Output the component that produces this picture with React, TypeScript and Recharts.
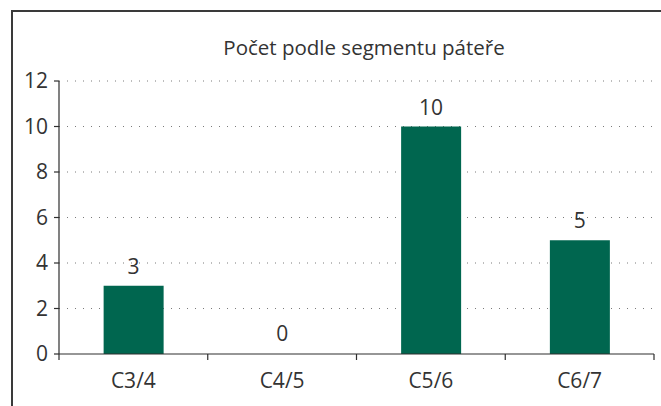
import React from "react"
import { BarChart, Bar, XAxis, YAxis, CartesianGrid, LabelList, Cell } from "recharts"

const segments = ["C3/4", "C4/5", "C5/6", "C6/7"]
const counts = [3, 0, 10, 5]
const yTicks = [0, 2, 4, 6, 8, 10, 12]

const chartTitle = "Počet podle segmentu páteře"

const textColor = "#333333"
const axisColor = "#2e2e2e"
const barColor = "#00664f"
const fontFamily = "'Open Sans', 'Noto Sans', sans-serif"
const fontSize = 21

const data = segments.map((name, i) => ({ name, count: counts[i] }))

type TickProps = {
  x?: number
  y?: number
  width?: number
  index?: number
  visibleTicksCount?: number
  payload?: { value: string }
}

// category label in the middle, tick marks at the band edges
function SegmentTick(props: TickProps) {
  const { x = 0, y = 0, width = 0, index = 0, visibleTicksCount = 1, payload } = props
  const band = width / visibleTicksCount
  const left = x - band / 2
  const axisY = y - 8
  const isLast = index === visibleTicksCount - 1
  return (
    <g>
      <line x1={left} y1={axisY} x2={left} y2={axisY + 6} stroke={axisColor} strokeWidth={1.2} />
      {isLast && <line x1={left + band} y1={axisY} x2={left + band} y2={axisY + 6} stroke={axisColor} strokeWidth={1.2} />}
      <text x={x} y={axisY + 28} textAnchor="middle" dominantBaseline="middle" fill={textColor} fontSize={fontSize} fontFamily={fontFamily}>
        {payload?.value}
      </text>
    </g>
  )
}

export default function App() {
  return (
    <div style={{ position: "absolute", left: 0, top: 0, width: 661, height: 406, background: "#fff", fontFamily, overflow: "hidden" }}>
      <div
        style={{
          position: "absolute",
          left: 11,
          top: 10,
          width: 700,
          height: 420,
          borderTop: "2px solid #3a3a3a",
          borderLeft: "2px solid #3a3a3a",
        }}
      />
      <div
        style={{
          position: "absolute",
          left: 60,
          width: 608,
          top: 33,
          textAlign: "center",
          fontSize: 20.5,
          lineHeight: "28px",
          color: textColor,
        }}
      >
        {chartTitle}
      </div>
      <BarChart
        width={661}
        height={406}
        data={data}
        margin={{ top: 81, right: 7, bottom: 0, left: 0 }}
        barCategoryGap="30%"
        style={{ position: "absolute", left: 0, top: 0 }}
      >
        <CartesianGrid vertical={false} stroke="#7a7a7a" strokeDasharray="1 7" horizontalValues={[2, 4, 6, 8, 10, 12]} />
        <XAxis
          dataKey="name"
          height={52}
          axisLine={{ stroke: axisColor, strokeWidth: 1.2 }}
          tickLine={false}
          tick={<SegmentTick />}
          interval={0}
        />
        <YAxis
          width={59}
          domain={[0, 12]}
          ticks={yTicks}
          interval={0}
          axisLine={{ stroke: axisColor, strokeWidth: 1.2 }}
          tickLine={{ stroke: axisColor, strokeWidth: 1.2 }}
          tickSize={5}
          tickMargin={6}
          fontSize={fontSize}
          tick={{ fill: textColor, fontSize, fontFamily }}
        />
        <Bar dataKey="count" fill={barColor} minPointSize={1} isAnimationActive={false}>
          {data.map((d) => (
            <Cell key={d.name} fill={d.count === 0 ? "transparent" : barColor} />
          ))}
          <LabelList dataKey="count" position="top" offset={12} fill={textColor} fontSize={fontSize} fontFamily={fontFamily} />
        </Bar>
      </BarChart>
    </div>
  )
}
